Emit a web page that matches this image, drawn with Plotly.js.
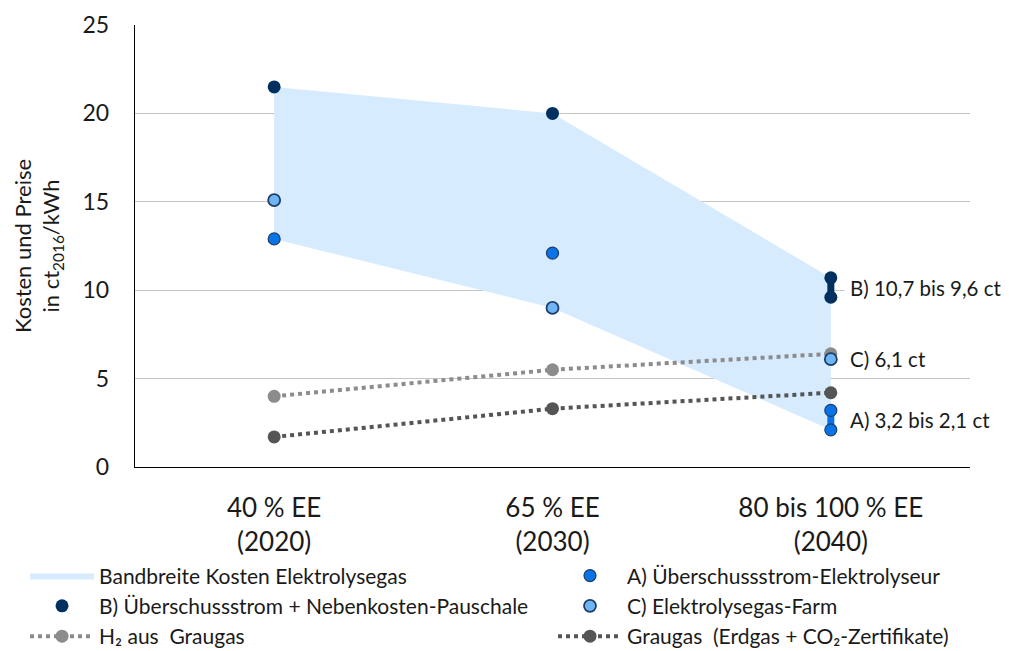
<!DOCTYPE html>
<html><head><meta charset="utf-8">
<script src="https://cdn.plot.ly/plotly-3.0.1.min.js"></script>
<style>html,body{margin:0;padding:0;background:#fff}#chart{width:1009px;height:651px}</style>
</head><body><div id="chart"></div>
<script>
const categories = ['40 % EE<br>(2020)', '65 % EE<br>(2030)', '80 bis 100 % EE<br>(2040)'];
const bandUpper = [21.5, 20.0, 10.7];
const bandLower = [12.9, 9.0, 2.1];
const seriesA = [12.9, 12.1, 3.2];
const seriesA2040Low = 2.1;
const seriesB = [21.5, 20.0, 10.7];
const seriesB2040Low = 9.6;
const seriesC = [15.1, 9.0, 6.1];
const seriesH2 = [4.0, 5.5, 6.4];
const seriesGrau = [1.7, 3.3, 4.2];
const names = ['Bandbreite Kosten Elektrolysegas', 'A) Überschussstrom-Elektrolyseur',
  'B) Überschussstrom + Nebenkosten-Pauschale', 'C) Elektrolysegas-Farm',
  'H₂ aus  Graugas', 'Graugas  (Erdgas + CO₂-Zertifikate)'];
const labels2040 = ['B) 10,7 bis 9,6 ct', 'C) 6,1 ct', 'A) 3,2 bis 2,1 ct'];

const xi = categories.map((_, i) => i);
const last = xi.length - 1;
const FONT = 'Lato, "Open Sans", sans-serif';
const NAVY = '#00305F', BLUE = '#0A73E8', LIGHT = '#6FB4F5', EDGE = '#1F3E66';

const traces = [
  {x: xi.concat(xi.slice().reverse()), y: bandUpper.concat(bandLower.slice().reverse()),
   type: 'scatter', mode: 'lines', fill: 'toself', fillcolor: '#D6EBFD', line: {width: 0, color: '#D6EBFD'},
   name: names[0], legend: 'legend', legendgroup: 'g1', legendrank: 1, hoverinfo: 'skip'},
  {x: xi, y: seriesH2, type: 'scatter', mode: 'lines+markers', name: names[4],
   legend: 'legend', legendgroup: 'g3', legendrank: 3,
   line: {color: '#8C8C8C', width: 4, dash: 'dot'}, marker: {color: '#8C8C8C', size: 13}},
  {x: xi, y: seriesGrau, type: 'scatter', mode: 'lines+markers', name: names[5],
   legend: 'legend2', legendgroup: 'g6', legendrank: 6,
   line: {color: '#555555', width: 4, dash: 'dot'}, marker: {color: '#555555', size: 13}},
  {x: [last, last], y: [seriesB[last], seriesB2040Low], type: 'scatter', mode: 'lines',
   line: {color: NAVY, width: 7}, showlegend: false, hoverinfo: 'skip'},
  {x: [last, last], y: [seriesA[last], seriesA2040Low], type: 'scatter', mode: 'lines',
   line: {color: BLUE, width: 7}, showlegend: false, hoverinfo: 'skip'},
  {x: xi.concat([last]), y: seriesB.concat([seriesB2040Low]), type: 'scatter', mode: 'markers',
   name: names[2], legend: 'legend', legendgroup: 'g2', legendrank: 2, marker: {color: NAVY, size: 13}},
  {x: xi.concat([last]), y: seriesA.concat([seriesA2040Low]), type: 'scatter', mode: 'markers',
   name: names[1], legend: 'legend2', legendgroup: 'g4', legendrank: 4,
   marker: {color: BLUE, size: 12, line: {color: EDGE, width: 1.2}}},
  {x: xi, y: seriesC, type: 'scatter', mode: 'markers', name: names[3],
   legend: 'legend2', legendgroup: 'g5', legendrank: 5,
   marker: {color: LIGHT, size: 12, line: {color: EDGE, width: 1.8}}}
];

const labelY = [(seriesB[last] + seriesB2040Low) / 2, seriesC[last], (seriesA[last] + seriesA2040Low) / 2];
const annotations = labels2040.map((t, i) => ({
  x: last, y: labelY[i], xref: 'x', yref: 'y', text: t, showarrow: false,
  xanchor: 'left', yanchor: 'middle', xshift: 13, bgcolor: '#ffffff', borderpad: 5,
  font: {family: FONT, size: 20.5, color: '#1a1a1a'}
}));

const legendBase = {orientation: 'v', xanchor: 'left', y: -0.2, yanchor: 'top',
  traceorder: 'grouped', tracegroupgap: 0, itemwidth: 64,
  font: {family: FONT, size: 21, color: '#1a1a1a'}, bgcolor: 'rgba(0,0,0,0)'};

const layout = {
  width: 1009, height: 651,
  margin: {l: 135, r: 39, t: 25, b: 184, autoexpand: false},
  paper_bgcolor: '#fff', plot_bgcolor: '#fff',
  font: {family: FONT, color: '#1a1a1a'},
  showlegend: true,
  xaxis: {range: [-0.5, 2.5], tickvals: xi, ticktext: categories, showgrid: false, zeroline: false,
    showline: true, linecolor: '#000', linewidth: 1.2, ticks: '', ticklabelstandoff: 18,
    tickfont: {family: FONT, size: 26, color: '#1a1a1a'}, fixedrange: true, automargin: false},
  yaxis: {range: [0, 25], dtick: 5, showgrid: true, gridcolor: '#c4c4c4', gridwidth: 1.3,
    zeroline: false, showline: true, linecolor: '#000', linewidth: 1.2, ticks: '', ticklabelstandoff: 20,
    tickfont: {family: FONT, size: 23, color: '#1a1a1a'},
    title: {text: 'Kosten und Preise<br>in ct<sub>2016</sub>/kWh', standoff: 16,
      font: {family: FONT, size: 22, color: '#1a1a1a'}}, automargin: false, fixedrange: true},
  legend: Object.assign({}, legendBase, {x: -0.1317}),
  legend2: Object.assign({}, legendBase, {x: 0.5006}),
  annotations: annotations
};

Plotly.newPlot('chart', traces, layout, {staticPlot: true, displayModeBar: false});
</script></body></html>
